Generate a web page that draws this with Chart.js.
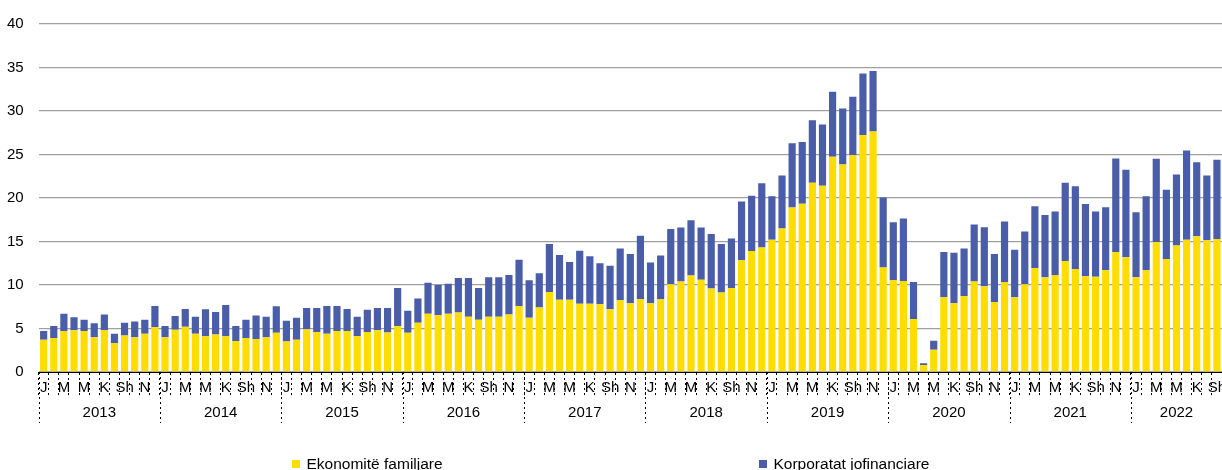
<!DOCTYPE html>
<html>
<head>
<meta charset="utf-8">
<script src="https://cdn.jsdelivr.net/npm/chart.js@4/dist/chart.umd.min.js"></script>
<style>
  html, body { margin: 0; padding: 0; background: #fff; }
  #wrap { position: relative; width: 1222px; height: 470px; overflow: hidden; }
  #c { position: absolute; left: 0; top: 0; }
  .lg { position: absolute; top: 455px; display: flex; align-items: center; font-family: "Liberation Sans", Arial, sans-serif; font-size: 15.5px; color: #000; white-space: nowrap; }
  .lg i { display: inline-block; width: 8.5px; height: 8.5px; margin-right: 6.5px; }
</style>
</head>
<body>
<div id="wrap">
  <canvas id="c" width="1222" height="470"></canvas>
  <div class="lg" style="left:291.5px"><i style="background:#FFDD00"></i><span>Ekonomitë familjare</span></div>
  <div class="lg" style="left:758.5px"><i style="background:#4A5DA8"></i><span>Korporatat jofinanciare</span></div>
</div>
<script>
// Years and number of months shown for each
const years = ['2013', '2014', '2015', '2016', '2017', '2018', '2019', '2020', '2021', '2022'];
const monthsPerYear = [12, 12, 12, 12, 12, 12, 12, 12, 12, 9];
// Month tick labels (every other month labelled)
const monthTicks = ['J', '', 'M', '', 'M', '', 'K', '', 'Sh', '', 'N', ''];
const monthNames = ['Jan', 'Shk', 'Mar', 'Pri', 'Maj', 'Qer', 'Kor', 'Gsh', 'Sht', 'Tet', 'Nën', 'Dhj'];

// Ekonomitë familjare (households)
const households = [
  3.7, 3.9, 4.7, 4.8, 4.7, 4.0, 4.8, 3.3, 4.2, 4.0, 4.4, 5.15,
  4.0, 4.85, 5.2, 4.4, 4.1, 4.3, 4.1, 3.55, 3.9, 3.8, 4.0, 4.5,
  3.5, 3.7, 4.9, 4.6, 4.4, 4.7, 4.7, 4.1, 4.6, 4.8, 4.55, 5.25,
  4.5, 5.65, 6.7, 6.55, 6.7, 6.85, 6.35, 6.0, 6.35, 6.35, 6.6, 7.55,
  6.25, 7.4, 9.2, 8.3, 8.3, 7.85, 7.85, 7.8, 7.2, 8.25, 7.9, 8.4,
  7.9, 8.35, 10.1, 10.4, 11.1, 10.6, 9.6, 9.15, 9.65, 12.85, 13.9, 14.3,
  15.2, 16.5, 18.9, 19.35, 21.75, 21.4, 24.75, 23.85, 24.9, 27.25, 27.65, 12.0,
  10.55, 10.45, 6.1, 0.8, 2.55, 8.6, 7.9, 8.75, 10.4, 9.85, 8.05, 10.35,
  8.6, 10.1, 11.95, 10.9, 11.15, 12.75, 11.85, 11.0, 10.95, 11.7, 13.8, 13.2,
  10.9, 11.7, 14.95, 13.0, 14.55, 15.2, 15.6, 15.15, 15.3
];
// Korporatat jofinanciare (non-financial corporations)
const corporations = [
  1.0, 1.4, 2.0, 1.5, 1.3, 1.6, 1.8, 1.1, 1.45, 1.8, 1.6, 2.45,
  1.3, 1.6, 2.05, 1.95, 3.1, 2.6, 3.6, 1.75, 2.1, 2.7, 2.35, 3.05,
  2.4, 2.55, 2.45, 2.75, 3.2, 2.9, 2.55, 2.25, 2.55, 2.55, 2.8, 4.4,
  2.55, 2.8, 3.55, 3.45, 3.45, 3.95, 4.45, 3.65, 4.55, 4.55, 4.55, 5.35,
  4.3, 3.95, 5.5, 5.15, 4.35, 6.1, 5.45, 4.7, 5.0, 5.95, 5.65, 7.25,
  4.7, 5.05, 6.35, 6.2, 6.35, 6.0, 6.25, 5.55, 5.7, 6.75, 6.35, 7.4,
  5.0, 6.1, 7.4, 7.1, 7.2, 7.05, 7.45, 6.45, 6.75, 7.05, 6.95, 8.05,
  6.65, 7.2, 4.25, 0.2, 1.05, 5.2, 5.8, 5.45, 6.55, 6.8, 5.5, 6.95,
  5.45, 6.05, 7.1, 7.15, 7.3, 9.0, 9.5, 8.3, 7.5, 7.25, 10.75, 10.05,
  7.45, 8.5, 9.55, 7.95, 8.15, 10.25, 8.5, 7.45, 9.1
];
const yTicks = { min: 0, max: 40, step: 5 };

// Build category labels from years and months
const labels = [];
const tickText = [];
years.forEach((y, yi) => {
  for (let m = 0; m < monthsPerYear[yi]; m++) {
    labels.push(monthNames[m] + ' ' + y);
    tickText.push(monthTicks[m]);
  }
});

const FONT = '"Liberation Sans", Arial, sans-serif';

const yearAxisPlugin = {
  id: 'yearAxis',
  afterDraw(chart) {
    const ctx = chart.ctx;
    const xs = chart.scales.x;
    const half = (xs.getPixelForValue(1) - xs.getPixelForValue(0)) / 2;
    const top = chart.chartArea.bottom;
    ctx.save();
    ctx.strokeStyle = '#000';
    ctx.lineWidth = 1;
    ctx.setLineDash([2, 3]);
    ctx.fillStyle = '#000';
    ctx.font = '15px ' + FONT;
    ctx.textAlign = 'center';
    ctx.textBaseline = 'middle';
    let idx = 0;
    years.forEach((y, yi) => {
      const first = idx;
      const last = idx + monthsPerYear[yi] - 1;
      const x0 = xs.getPixelForValue(first) - half;
      const x1 = xs.getPixelForValue(last) + half;
      const xl = Math.round(x0) + 0.5;
      ctx.beginPath();
      ctx.moveTo(xl, top);
      ctx.lineTo(xl, top + 51);
      ctx.stroke();
      ctx.fillText(y, (x0 + x1) / 2, top + 41);
      idx = last + 1;
    });
    ctx.restore();
  }
};

new Chart(document.getElementById('c'), {
  type: 'bar',
  data: {
    labels: labels,
    datasets: [
      { label: 'Ekonomitë familjare', data: households, backgroundColor: '#FFDD00', borderWidth: 0 },
      { label: 'Korporatat jofinanciare', data: corporations, backgroundColor: '#4A5DA8', borderWidth: 0 }
    ]
  },
  options: {
    responsive: false,
    devicePixelRatio: 1,
    animation: false,
    layout: { padding: { top: 19.5, left: 0, right: 0, bottom: 0 } },
    datasets: { bar: { categoryPercentage: 1, barPercentage: 0.71 } },
    plugins: { legend: { display: false }, tooltip: { enabled: false } },
    scales: {
      x: {
        stacked: true,
        afterFit(s) { s.height = 98; },
        grid: {
          display: true, drawOnChartArea: false, drawTicks: true, offset: true,
          tickLength: 26, tickColor: '#000', tickWidth: 1, tickBorderDash: [2, 3]
        },
        border: { display: true, color: '#000', width: 1, dash: [2, 2] },
        ticks: {
          autoSkip: false, maxRotation: 0, minRotation: 0, padding: -19,
          color: '#000', font: { family: FONT, size: 15 },
          callback: (v, i) => tickText[i]
        }
      },
      y: {
        stacked: true,
        min: yTicks.min, max: yTicks.max,
        afterFit(s) { s.width = 38.6; },
        grid: { color: '#a0a0a0', lineWidth: 1.3, drawTicks: false },
        border: { display: false },
        ticks: { stepSize: yTicks.step, padding: 15, color: '#000', font: { family: FONT, size: 15 } }
      }
    }
  },
  plugins: [yearAxisPlugin]
});
</script>
</body>
</html>
